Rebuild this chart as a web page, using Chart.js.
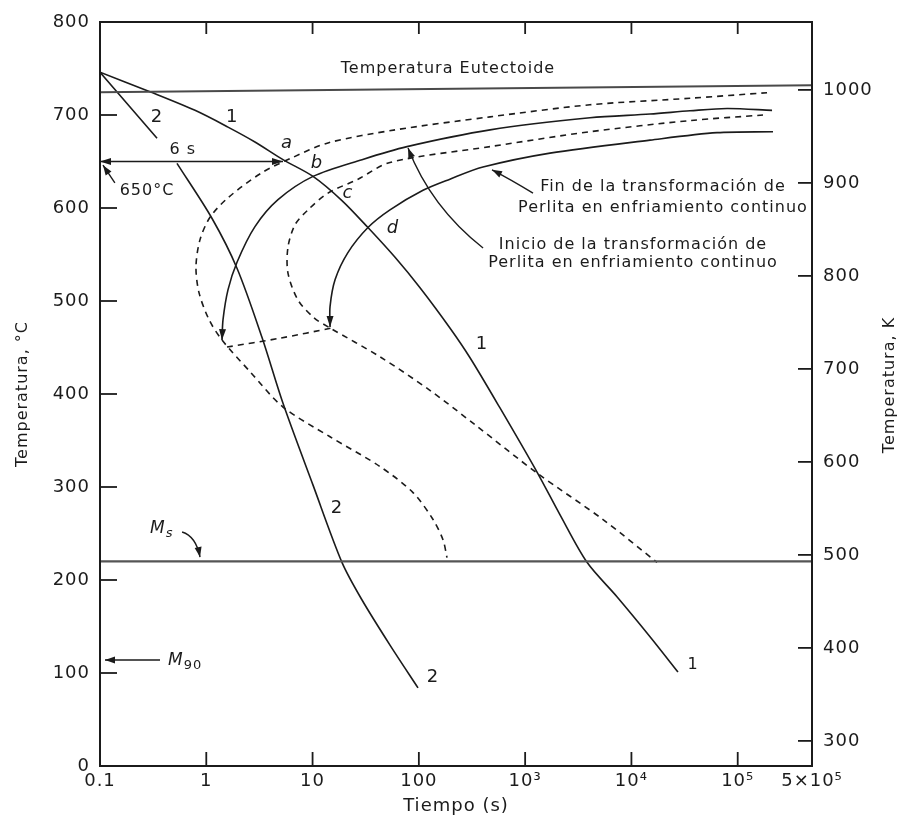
<!DOCTYPE html>
<html lang="es">
<head>
<meta charset="utf-8">
<title>Transformación de perlita en enfriamiento continuo</title>
<script src="https://cdn.jsdelivr.net/npm/chart.js@4.4.1/dist/chart.umd.min.js"></script>
<style>
  html, body { margin: 0; padding: 0; background: #fff; }
  #wrap { width: 901px; height: 822px; }
</style>
</head>
<body>
<div id="wrap"><canvas id="chart"></canvas></div>
<script>
// ── Axes ──
const xTickValues = [0.1, 1, 10, 100, 1e3, 1e4, 1e5, 5e5];
const xTickLabels = ["0.1", "1", "10", "100", "10³", "10⁴", "10⁵", "5×10⁵"];
const kelvinTicks = [300, 400, 500, 600, 700, 800, 900, 1000];

// ── Reference lines (°C) ──
const eutTime = [0.1, 5e5];
const eutTemp = [724.5, 732];
const msTime = [0.1, 5e5];
const msTemp = [220, 220];

// ── Cooling curves 1 and 2 ──
const c1Time = [0.1, 0.295, 0.783, 1.6, 2.87, 5.27, 10.1, 18.9, 33.2, 59.7, 103, 196, 303, 580, 1294, 2130, 3820, 7310, 14960, 27420];
const c1Temp = [746, 725, 705, 687, 671, 652, 634, 608, 579, 547, 514, 471, 439, 385, 316, 270, 219, 182, 139, 101];
const c2Time = [0.1, 0.344, 0.43, 0.53, 1.13, 1.95, 3.34, 5.27, 10.1, 18.9, 29.2, 53.5, 98.2];
const c2Temp = [746, 675, null, 648, 589, 535, 461, 390, 302, 219, 178.5, 130, 84];

// ── Isothermal start / end (dashed) ──
const isoStartTime = [188800, 35560, 4074, 468, 59.7, 13.97, 6.41, 3.34, 1.6, 1.084, 0.873, 0.8, 0.854, 1.061, 1.406, 2.58, 5.27, 14.6, 43.1, 88.1, 136, 169, 184];
const isoStartTemp = [724, 718, 711, 698, 684, 670, 654, 638, 611, 590, 566, 537, 509, 480, 458, 424, 386, 354, 322, 294, 265, 243, 224];
const isoEndTime = [173000, 35560, 4074, 468, 53.5, 26.8, 13.97, 9.06, 6.84, 5.87, 5.87, 7.3, 10.3, 14.6, 43.1, 127, 337, 1294, 5410, 17400];
const isoEndTemp = [700, 694, 682, 666, 649, 631, 616, 598, 582, 558, 530, 501, 482, 471, 440, 404, 367, 315, 265, 219];
const linkTime = [1.567, 4.94, 15.2];
const linkTemp = [450.5, 460, 471];

// ── Continuous cooling start / end (solid) ──
const ccStartTime = [210400, 79400, 35560, 14960, 4074, 468, 77.4, 29.2, 10.1, 4.73, 2.87, 1.95, 1.6, 1.437, 1.406];
const ccStartTemp = [705, 707, 704.5, 701, 697, 684, 666, 652, 634, 609, 580, 542, 512, 480, 458];
const ccEndTime = [214800, 63870, 14960, 1714, 401, 196, 109.4, 53.5, 33.2, 21.5, 16.3, 14.6, 14.6];
const ccEndTemp = [682, 681, 673, 659, 644, 631, 619, 598, 579, 552, 523, 494, 472];

// ── 6 s at 650 °C ──
const sixTime = [0.1, 5.27];
const sixTemp = [650, 650];

const INK = "#1b1b1b";
const FONT = "'DejaVu Sans', sans-serif";
Chart.defaults.font.family = FONT;
Chart.defaults.color = INK;

const pts = (ts, Ts) => ts.map((t, i) => ({ x: t, y: Ts[i] }));

function line(data, extra) {
  return Object.assign({
    data,
    showLine: true,
    borderColor: INK,
    borderWidth: 1.6,
    pointRadius: 0,
    tension: 0.3,
    fill: false,
  }, extra);
}
const DASH = [6, 5];

function arrowHead(ctx, x, y, ang, len = 11, half = 3.5) {
  const c = Math.cos(ang), s = Math.sin(ang);
  ctx.beginPath();
  ctx.moveTo(x, y);
  ctx.lineTo(x - len * c + half * s, y - len * s - half * c);
  ctx.lineTo(x - len * c - half * s, y - len * s + half * c);
  ctx.closePath();
  ctx.fill();
}

// arrowheads at the ends of some datasets
const datasetArrows = {
  id: "datasetArrows",
  afterDatasetsDraw(chart) {
    const ctx = chart.ctx;
    ctx.save();
    ctx.fillStyle = INK;
    chart.data.datasets.forEach((ds, i) => {
      if (!ds.arrow) return;
      const d = chart.getDatasetMeta(i).data;
      const n = d.length;
      const p = d[n - 1], q = d[n - 2];
      arrowHead(ctx, p.x, p.y, Math.atan2(p.y - q.y, p.x - q.x));
      if (ds.arrow === "both") {
        arrowHead(ctx, d[0].x, d[0].y, Math.atan2(d[0].y - d[1].y, d[0].x - d[1].x));
      }
    });
    ctx.restore();
  },
};

// box and inward tick marks
const frameTicks = {
  id: "frameTicks",
  beforeDraw(chart) {
    chart.ctx.letterSpacing = "1px";
  },
  afterDatasetsDraw(chart) {
    const { ctx, chartArea: a, scales } = chart;
    const seg = (x1, y1, x2, y2) => {
      ctx.beginPath();
      ctx.moveTo(x1, y1);
      ctx.lineTo(x2, y2);
      ctx.stroke();
    };
    ctx.save();
    ctx.strokeStyle = INK;
    ctx.lineWidth = 2;
    ctx.strokeRect(a.left, a.top, a.right - a.left, a.bottom - a.top);
    ctx.lineWidth = 1.8;
    scales.x.ticks.forEach((t) => {
      if (t.value <= scales.x.min || t.value >= scales.x.max) return;
      const px = scales.x.getPixelForValue(t.value);
      seg(px, a.bottom, px, a.bottom - 14);
      seg(px, a.top, px, a.top + 12);
    });
    scales.y.ticks.forEach((t) => {
      if (t.value <= scales.y.min || t.value >= scales.y.max) return;
      const py = scales.y.getPixelForValue(t.value);
      seg(a.left, py, a.left + 17, py);
    });
    scales.y2.ticks.forEach((t) => {
      const py = scales.y2.getPixelForValue(t.value);
      seg(a.right - 14, py, a.right, py);
    });
    ctx.restore();
  },
};

// text notes (time s, temperature °C)
const notes = [
  { text: "Temperatura Eutectoide", t: 188, T: 750, size: 16 },
  { text: "1", t: 1.75, T: 698, size: 18 },
  { text: "2", t: 0.344, T: 698, size: 18 },
  { text: "6 s", t: 0.6, T: 662, size: 16 },
  { text: "a", t: 5.75, T: 670, size: 18, italic: true },
  { text: "b", t: 11, T: 648, size: 18, italic: true },
  { text: "c", t: 21.5, T: 616, size: 18, italic: true },
  { text: "d", t: 57.2, T: 578, size: 18, italic: true },
  { text: "650°C", t: 0.277, T: 618, size: 16 },
  { text: "1", t: 393, T: 453, size: 18 },
  { text: "2", t: 17, T: 277, size: 18 },
  { text: "2", t: 136, T: 95, size: 18 },
  { text: "1", t: 38000, T: 109, size: 16 },
  { text: "Fin de la transformación de", t: 19800, T: 623, size: 16 },
  { text: "Perlita en enfriamiento continuo", t: 19800, T: 600, size: 16 },
  { text: "Inicio de la transformación de", t: 10350, T: 560, size: 16 },
  { text: "Perlita en enfriamiento continuo", t: 10350, T: 541, size: 16 },
];

// pointer arrows: from, control, to (time s, °C)
const pointers = [
  { from: [0.138, 627], to: [0.1067, 646] },
  { from: [0.592, 251.6], ctrl: [0.8, 247], to: [0.873, 224.7] },
  { from: [0.367, 114], to: [0.1114, 114] },
  { from: [1186, 616], ctrl: [721, 631], to: [488, 641] },
  { from: [402, 557], ctrl: [130, 601], to: [79.1, 664.5] },
];

const annotations = {
  id: "annotations",
  afterDraw(chart) {
    const { ctx, scales } = chart;
    const P = (t, T) => [scales.x.getPixelForValue(t), scales.y.getPixelForValue(T)];
    ctx.save();
    ctx.fillStyle = INK;
    ctx.strokeStyle = INK;
    ctx.textAlign = "center";
    ctx.textBaseline = "middle";
    notes.forEach((n) => {
      const [x, y] = P(n.t, n.T);
      ctx.font = (n.italic ? "italic " : "") + n.size + "px " + FONT;
      ctx.fillText(n.text, x, y);
    });

    // M_s and M_90
    const sub = (main, small, smallItalic, t, T) => {
      const [x, y] = P(t, T);
      ctx.textAlign = "left";
      ctx.textBaseline = "alphabetic";
      ctx.font = "italic 17px " + FONT;
      ctx.fillText(main, x, y);
      const w = ctx.measureText(main).width;
      ctx.font = (smallItalic ? "italic " : "") + "13px " + FONT;
      ctx.fillText(small, x + w, y + 4);
    };
    sub("M", "s", true, 0.2954, 250.5);
    sub("M", "90", false, 0.436, 108.6);

    ctx.lineWidth = 1.4;
    pointers.forEach((p) => {
      const [x0, y0] = P(...p.from);
      const [x1, y1] = P(...p.to);
      ctx.beginPath();
      ctx.moveTo(x0, y0);
      let ang;
      if (p.ctrl) {
        const [cx, cy] = P(...p.ctrl);
        ctx.quadraticCurveTo(cx, cy, x1, y1);
        ang = Math.atan2(y1 - cy, x1 - cx);
      } else {
        ctx.lineTo(x1, y1);
        ang = Math.atan2(y1 - y0, x1 - x0);
      }
      ctx.stroke();
      arrowHead(ctx, x1, y1, ang, 10, 3.5);
    });

    // right axis title, reading upwards
    ctx.save();
    ctx.translate(890, (chart.chartArea.top + chart.chartArea.bottom) / 2 - 9);
    ctx.rotate(-Math.PI / 2);
    ctx.textAlign = "center";
    ctx.textBaseline = "middle";
    ctx.font = "16px " + FONT;
    ctx.fillText("Temperatura, K", 0, 0);
    ctx.restore();
    ctx.restore();
  },
};

new Chart(document.getElementById("chart"), {
  type: "scatter",
  data: {
    datasets: [
      line(pts(eutTime, eutTemp), { label: "Temperatura Eutectoide", borderColor: "#4a4a4a", borderWidth: 2, tension: 0 }),
      line(pts(msTime, msTemp), { label: "Ms", borderColor: "#555", borderWidth: 2.2, tension: 0 }),
      line(pts(isoStartTime, isoStartTemp), { label: "Inicio isotérmico", borderDash: DASH }),
      line(pts(isoEndTime, isoEndTemp), { label: "Fin isotérmico", borderDash: DASH }),
      line(pts(linkTime, linkTemp), { label: "Enlace", borderDash: DASH }),
      line(pts(ccStartTime, ccStartTemp), { label: "Inicio enfriamiento continuo", arrow: "end" }),
      line(pts(ccEndTime, ccEndTemp), { label: "Fin enfriamiento continuo", arrow: "end" }),
      line(pts(c1Time, c1Temp), { label: "Curva 1" }),
      line(pts(c2Time, c2Temp), { label: "Curva 2", spanGaps: false }),
      line(pts(sixTime, sixTemp), { label: "6 s", borderWidth: 1.5, tension: 0, arrow: "both" }),
    ],
  },
  options: {
    responsive: true,
    maintainAspectRatio: false,
    animation: false,
    layout: { padding: { top: 22, left: 0, right: 0, bottom: 0 } },
    plugins: {
      legend: { display: false },
      tooltip: { enabled: false },
    },
    scales: {
      x: {
        type: "logarithmic",
        min: 0.1,
        max: 5e5,
        grid: { display: false, drawTicks: false },
        border: { display: false },
        afterBuildTicks: (s) => { s.ticks = xTickValues.map((v) => ({ value: v })); },
        afterFit: (s) => { s.height = 56; },
        ticks: {
          autoSkip: false,
          maxRotation: 0,
          padding: 5,
          font: { size: 18 },
          callback: (v, i) => xTickLabels[i],
        },
        title: {
          display: true,
          text: "Tiempo (s)",
          font: { size: 18 },
          padding: { top: 0, bottom: 5 },
        },
      },
      y: {
        position: "left",
        min: 0,
        max: 800,
        grid: { display: false, drawTicks: false },
        border: { display: false },
        afterFit: (s) => { s.width = 100; },
        ticks: { stepSize: 100, padding: 10, font: { size: 18 } },
        title: {
          display: true,
          text: "Temperatura, °C",
          font: { size: 16 },
          padding: { top: 13, bottom: 0 },
        },
      },
      y2: {
        position: "right",
        min: 273,
        max: 1073,
        grid: { display: false, drawTicks: false },
        border: { display: false },
        afterBuildTicks: (s) => { s.ticks = kelvinTicks.map((v) => ({ value: v })); },
        afterFit: (s) => { s.width = 89; },
        ticks: { padding: 11, font: { size: 18 }, callback: (v) => String(v) },
      },
    },
  },
  plugins: [frameTicks, datasetArrows, annotations],
});
</script>
</body>
</html>
